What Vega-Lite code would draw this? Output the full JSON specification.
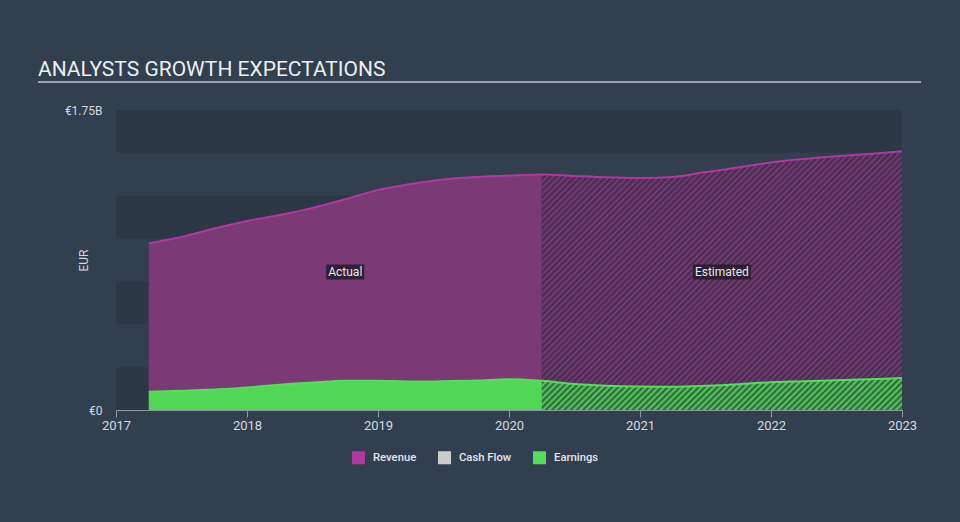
{
  "$schema": "https://vega.github.io/schema/vega-lite/v6.json",
  "width": 786,
  "height": 300,
  "autosize": "none",
  "padding": {"left": 116, "top": 110, "right": 58, "bottom": 112},
  "background": "#323f4e",
  "config": {
    "font": "Roboto",
    "view": {"stroke": null},
    "axis": {"grid": false}
  },
  "title": {
    "text": "ANALYSTS GROWTH EXPECTATIONS",
    "anchor": "start",
    "frame": "group",
    "dx": -78,
    "dy": 49,
    "offset": 33,
    "baseline": "alphabetic",
    "fontSize": 21,
    "font": "Roboto",
    "fontWeight": "normal",
    "color": "#eceef0"
  },
  "data": {
    "values": [
      {"series": "Revenue", "year": 2017.25, "value": 0.972},
      {"series": "Revenue", "year": 2017.5, "value": 1.009},
      {"series": "Revenue", "year": 2017.75, "value": 1.059},
      {"series": "Revenue", "year": 2018.0, "value": 1.103},
      {"series": "Revenue", "year": 2018.25, "value": 1.137},
      {"series": "Revenue", "year": 2018.5, "value": 1.179},
      {"series": "Revenue", "year": 2018.75, "value": 1.229},
      {"series": "Revenue", "year": 2019.0, "value": 1.284},
      {"series": "Revenue", "year": 2019.25, "value": 1.318},
      {"series": "Revenue", "year": 2019.5, "value": 1.345},
      {"series": "Revenue", "year": 2019.75, "value": 1.359},
      {"series": "Revenue", "year": 2020.0, "value": 1.368},
      {"series": "Revenue", "year": 2020.25, "value": 1.374},
      {"series": "Revenue", "year": 2020.5, "value": 1.365},
      {"series": "Revenue", "year": 2020.75, "value": 1.357},
      {"series": "Revenue", "year": 2021.0, "value": 1.353},
      {"series": "Revenue", "year": 2021.25, "value": 1.359},
      {"series": "Revenue", "year": 2021.5, "value": 1.388},
      {"series": "Revenue", "year": 2021.75, "value": 1.414},
      {"series": "Revenue", "year": 2022.0, "value": 1.444},
      {"series": "Revenue", "year": 2022.25, "value": 1.464},
      {"series": "Revenue", "year": 2022.5, "value": 1.48},
      {"series": "Revenue", "year": 2022.75, "value": 1.494},
      {"series": "Revenue", "year": 2023.0, "value": 1.509},
      {"series": "Earnings", "year": 2017.25, "value": 0.107},
      {"series": "Earnings", "year": 2017.5, "value": 0.112},
      {"series": "Earnings", "year": 2017.75, "value": 0.119},
      {"series": "Earnings", "year": 2018.0, "value": 0.131},
      {"series": "Earnings", "year": 2018.25, "value": 0.148},
      {"series": "Earnings", "year": 2018.5, "value": 0.16},
      {"series": "Earnings", "year": 2018.75, "value": 0.17},
      {"series": "Earnings", "year": 2019.0, "value": 0.171},
      {"series": "Earnings", "year": 2019.25, "value": 0.166},
      {"series": "Earnings", "year": 2019.5, "value": 0.168},
      {"series": "Earnings", "year": 2019.75, "value": 0.172},
      {"series": "Earnings", "year": 2020.0, "value": 0.18},
      {"series": "Earnings", "year": 2020.25, "value": 0.17},
      {"series": "Earnings", "year": 2020.5, "value": 0.152},
      {"series": "Earnings", "year": 2020.75, "value": 0.141},
      {"series": "Earnings", "year": 2021.0, "value": 0.137},
      {"series": "Earnings", "year": 2021.25, "value": 0.136},
      {"series": "Earnings", "year": 2021.5, "value": 0.141},
      {"series": "Earnings", "year": 2021.75, "value": 0.15},
      {"series": "Earnings", "year": 2022.0, "value": 0.162},
      {"series": "Earnings", "year": 2022.25, "value": 0.168},
      {"series": "Earnings", "year": 2022.5, "value": 0.174},
      {"series": "Earnings", "year": 2022.75, "value": 0.18},
      {"series": "Earnings", "year": 2023.0, "value": 0.186}
    ]
  },
  "layer": [
    {
      "data": {"values": [{"lo": 0, "hi": 0.25}, {"lo": 0.5, "hi": 0.75}, {"lo": 1.0, "hi": 1.25}, {"lo": 1.5, "hi": 1.75}]},
      "mark": {"type": "rect", "color": "#2c3846"},
      "encoding": {
        "y": {
          "field": "lo", "type": "quantitative",
          "scale": {"domain": [0, 1.75], "nice": false, "zero": true},
          "axis": {
            "values": [0, 1.75],
            "labelExpr": "datum.value == 0 ? '€0' : '€' + datum.value + 'B'",
            "domain": false, "ticks": false, "tickSize": 0,
            "labelPadding": 14, "labelFontSize": 12, "labelColor": "#d5d9de",
            "title": "EUR", "titleColor": "#d5d9de", "titleFontSize": 12,
            "titleFontWeight": "normal", "titleX": -26, "titleY": 150
          }
        },
        "y2": {"field": "hi"}
      }
    },
    {
      "data": {"values": [{}]},
      "mark": {"type": "rule", "color": "#9aa3ad", "strokeWidth": 2, "clip": false},
      "encoding": {
        "x": {"value": -78},
        "x2": {"value": 805},
        "y": {"value": -28}
      }
    },
    {
      "transform": [{"filter": "datum.series == 'Revenue' && datum.year <= 2020.25"}],
      "mark": {"type": "area", "interpolate": "monotone", "color": "#7b3975"},
      "encoding": {
        "x": {
          "field": "year", "type": "quantitative",
          "scale": {"domain": [2017, 2023], "nice": false, "zero": false},
          "axis": {
            "values": [2017, 2018, 2019, 2020, 2021, 2022, 2023],
            "format": "d", "title": null, "labelFlush": false,
            "domainColor": "#8d99a6", "tickColor": "#8d99a6", "tickSize": 7,
            "labelPadding": 2, "labelFontSize": 13, "labelColor": "#d5d9de"
          }
        },
        "y": {"field": "value", "type": "quantitative"}
      }
    },
    {
      "transform": [{"filter": "datum.series == 'Revenue' && datum.year >= 2020.25"}],
      "mark": {"type": "area", "interpolate": "monotone", "color": "#7b3975"},
      "encoding": {
        "x": {"field": "year", "type": "quantitative"},
        "y": {"field": "value", "type": "quantitative"}
      }
    },
    {
      "transform": [{"filter": "datum.series == 'Earnings'"}],
      "mark": {"type": "area", "interpolate": "monotone", "color": "#52d656"},
      "encoding": {
        "x": {"field": "year", "type": "quantitative"},
        "y": {"field": "value", "type": "quantitative"}
      }
    },
    {
      "transform": [{"filter": "datum.series == 'Revenue' && datum.year >= 2020.25"}],
      "mark": {
        "type": "area", "interpolate": "monotone",
        "fill": {
          "gradient": "linear", "x1": 0, "y1": 0, "x2": 1.133, "y2": 0.815,
          "stops": [
            {"offset":0,"color":"rgba(38,40,58,0)"},{"offset":0.005,"color":"rgba(38,40,58,0.72)"},
            {"offset":0.01,"color":"rgba(38,40,58,0)"},{"offset":0.015,"color":"rgba(38,40,58,0.72)"},
            {"offset":0.02,"color":"rgba(38,40,58,0)"},{"offset":0.025,"color":"rgba(38,40,58,0.72)"},
            {"offset":0.03,"color":"rgba(38,40,58,0)"},{"offset":0.035,"color":"rgba(38,40,58,0.72)"},
            {"offset":0.04,"color":"rgba(38,40,58,0)"},{"offset":0.045,"color":"rgba(38,40,58,0.72)"},
            {"offset":0.05,"color":"rgba(38,40,58,0)"},{"offset":0.055,"color":"rgba(38,40,58,0.72)"},
            {"offset":0.06,"color":"rgba(38,40,58,0)"},{"offset":0.065,"color":"rgba(38,40,58,0.72)"},
            {"offset":0.07,"color":"rgba(38,40,58,0)"},{"offset":0.075,"color":"rgba(38,40,58,0.72)"},
            {"offset":0.08,"color":"rgba(38,40,58,0)"},{"offset":0.085,"color":"rgba(38,40,58,0.72)"},
            {"offset":0.09,"color":"rgba(38,40,58,0)"},{"offset":0.095,"color":"rgba(38,40,58,0.72)"},
            {"offset":0.1,"color":"rgba(38,40,58,0)"},{"offset":0.105,"color":"rgba(38,40,58,0.72)"},
            {"offset":0.11,"color":"rgba(38,40,58,0)"},{"offset":0.115,"color":"rgba(38,40,58,0.72)"},
            {"offset":0.12,"color":"rgba(38,40,58,0)"},{"offset":0.125,"color":"rgba(38,40,58,0.72)"},
            {"offset":0.13,"color":"rgba(38,40,58,0)"},{"offset":0.135,"color":"rgba(38,40,58,0.72)"},
            {"offset":0.14,"color":"rgba(38,40,58,0)"},{"offset":0.145,"color":"rgba(38,40,58,0.72)"},
            {"offset":0.15,"color":"rgba(38,40,58,0)"},{"offset":0.155,"color":"rgba(38,40,58,0.72)"},
            {"offset":0.16,"color":"rgba(38,40,58,0)"},{"offset":0.165,"color":"rgba(38,40,58,0.72)"},
            {"offset":0.17,"color":"rgba(38,40,58,0)"},{"offset":0.175,"color":"rgba(38,40,58,0.72)"},
            {"offset":0.18,"color":"rgba(38,40,58,0)"},{"offset":0.185,"color":"rgba(38,40,58,0.72)"},
            {"offset":0.19,"color":"rgba(38,40,58,0)"},{"offset":0.195,"color":"rgba(38,40,58,0.72)"},
            {"offset":0.2,"color":"rgba(38,40,58,0)"},{"offset":0.205,"color":"rgba(38,40,58,0.72)"},
            {"offset":0.21,"color":"rgba(38,40,58,0)"},{"offset":0.215,"color":"rgba(38,40,58,0.72)"},
            {"offset":0.22,"color":"rgba(38,40,58,0)"},{"offset":0.225,"color":"rgba(38,40,58,0.72)"},
            {"offset":0.23,"color":"rgba(38,40,58,0)"},{"offset":0.235,"color":"rgba(38,40,58,0.72)"},
            {"offset":0.24,"color":"rgba(38,40,58,0)"},{"offset":0.245,"color":"rgba(38,40,58,0.72)"},
            {"offset":0.25,"color":"rgba(38,40,58,0)"},{"offset":0.255,"color":"rgba(38,40,58,0.72)"},
            {"offset":0.26,"color":"rgba(38,40,58,0)"},{"offset":0.265,"color":"rgba(38,40,58,0.72)"},
            {"offset":0.27,"color":"rgba(38,40,58,0)"},{"offset":0.275,"color":"rgba(38,40,58,0.72)"},
            {"offset":0.28,"color":"rgba(38,40,58,0)"},{"offset":0.285,"color":"rgba(38,40,58,0.72)"},
            {"offset":0.29,"color":"rgba(38,40,58,0)"},{"offset":0.295,"color":"rgba(38,40,58,0.72)"},
            {"offset":0.3,"color":"rgba(38,40,58,0)"},{"offset":0.305,"color":"rgba(38,40,58,0.72)"},
            {"offset":0.31,"color":"rgba(38,40,58,0)"},{"offset":0.315,"color":"rgba(38,40,58,0.72)"},
            {"offset":0.32,"color":"rgba(38,40,58,0)"},{"offset":0.325,"color":"rgba(38,40,58,0.72)"},
            {"offset":0.33,"color":"rgba(38,40,58,0)"},{"offset":0.335,"color":"rgba(38,40,58,0.72)"},
            {"offset":0.34,"color":"rgba(38,40,58,0)"},{"offset":0.345,"color":"rgba(38,40,58,0.72)"},
            {"offset":0.35,"color":"rgba(38,40,58,0)"},{"offset":0.355,"color":"rgba(38,40,58,0.72)"},
            {"offset":0.36,"color":"rgba(38,40,58,0)"},{"offset":0.365,"color":"rgba(38,40,58,0.72)"},
            {"offset":0.37,"color":"rgba(38,40,58,0)"},{"offset":0.375,"color":"rgba(38,40,58,0.72)"},
            {"offset":0.38,"color":"rgba(38,40,58,0)"},{"offset":0.385,"color":"rgba(38,40,58,0.72)"},
            {"offset":0.39,"color":"rgba(38,40,58,0)"},{"offset":0.395,"color":"rgba(38,40,58,0.72)"},
            {"offset":0.4,"color":"rgba(38,40,58,0)"},{"offset":0.405,"color":"rgba(38,40,58,0.72)"},
            {"offset":0.41,"color":"rgba(38,40,58,0)"},{"offset":0.415,"color":"rgba(38,40,58,0.72)"},
            {"offset":0.42,"color":"rgba(38,40,58,0)"},{"offset":0.425,"color":"rgba(38,40,58,0.72)"},
            {"offset":0.43,"color":"rgba(38,40,58,0)"},{"offset":0.435,"color":"rgba(38,40,58,0.72)"},
            {"offset":0.44,"color":"rgba(38,40,58,0)"},{"offset":0.445,"color":"rgba(38,40,58,0.72)"},
            {"offset":0.45,"color":"rgba(38,40,58,0)"},{"offset":0.455,"color":"rgba(38,40,58,0.72)"},
            {"offset":0.46,"color":"rgba(38,40,58,0)"},{"offset":0.465,"color":"rgba(38,40,58,0.72)"},
            {"offset":0.47,"color":"rgba(38,40,58,0)"},{"offset":0.475,"color":"rgba(38,40,58,0.72)"},
            {"offset":0.48,"color":"rgba(38,40,58,0)"},{"offset":0.485,"color":"rgba(38,40,58,0.72)"},
            {"offset":0.49,"color":"rgba(38,40,58,0)"},{"offset":0.495,"color":"rgba(38,40,58,0.72)"},
            {"offset":0.5,"color":"rgba(38,40,58,0)"},{"offset":0.505,"color":"rgba(38,40,58,0.72)"},
            {"offset":0.51,"color":"rgba(38,40,58,0)"},{"offset":0.515,"color":"rgba(38,40,58,0.72)"},
            {"offset":0.52,"color":"rgba(38,40,58,0)"},{"offset":0.525,"color":"rgba(38,40,58,0.72)"},
            {"offset":0.53,"color":"rgba(38,40,58,0)"},{"offset":0.535,"color":"rgba(38,40,58,0.72)"},
            {"offset":0.54,"color":"rgba(38,40,58,0)"},{"offset":0.545,"color":"rgba(38,40,58,0.72)"},
            {"offset":0.55,"color":"rgba(38,40,58,0)"},{"offset":0.555,"color":"rgba(38,40,58,0.72)"},
            {"offset":0.56,"color":"rgba(38,40,58,0)"},{"offset":0.565,"color":"rgba(38,40,58,0.72)"},
            {"offset":0.57,"color":"rgba(38,40,58,0)"},{"offset":0.575,"color":"rgba(38,40,58,0.72)"},
            {"offset":0.58,"color":"rgba(38,40,58,0)"},{"offset":0.585,"color":"rgba(38,40,58,0.72)"},
            {"offset":0.59,"color":"rgba(38,40,58,0)"},{"offset":0.595,"color":"rgba(38,40,58,0.72)"},
            {"offset":0.6,"color":"rgba(38,40,58,0)"},{"offset":0.605,"color":"rgba(38,40,58,0.72)"},
            {"offset":0.61,"color":"rgba(38,40,58,0)"},{"offset":0.615,"color":"rgba(38,40,58,0.72)"},
            {"offset":0.62,"color":"rgba(38,40,58,0)"},{"offset":0.625,"color":"rgba(38,40,58,0.72)"},
            {"offset":0.63,"color":"rgba(38,40,58,0)"},{"offset":0.635,"color":"rgba(38,40,58,0.72)"},
            {"offset":0.64,"color":"rgba(38,40,58,0)"},{"offset":0.645,"color":"rgba(38,40,58,0.72)"},
            {"offset":0.65,"color":"rgba(38,40,58,0)"},{"offset":0.655,"color":"rgba(38,40,58,0.72)"},
            {"offset":0.66,"color":"rgba(38,40,58,0)"},{"offset":0.665,"color":"rgba(38,40,58,0.72)"},
            {"offset":0.67,"color":"rgba(38,40,58,0)"},{"offset":0.675,"color":"rgba(38,40,58,0.72)"},
            {"offset":0.68,"color":"rgba(38,40,58,0)"},{"offset":0.685,"color":"rgba(38,40,58,0.72)"},
            {"offset":0.69,"color":"rgba(38,40,58,0)"},{"offset":0.695,"color":"rgba(38,40,58,0.72)"},
            {"offset":0.7,"color":"rgba(38,40,58,0)"},{"offset":0.705,"color":"rgba(38,40,58,0.72)"},
            {"offset":0.71,"color":"rgba(38,40,58,0)"},{"offset":0.715,"color":"rgba(38,40,58,0.72)"},
            {"offset":0.72,"color":"rgba(38,40,58,0)"},{"offset":0.725,"color":"rgba(38,40,58,0.72)"},
            {"offset":0.73,"color":"rgba(38,40,58,0)"},{"offset":0.735,"color":"rgba(38,40,58,0.72)"},
            {"offset":0.74,"color":"rgba(38,40,58,0)"},{"offset":0.745,"color":"rgba(38,40,58,0.72)"},
            {"offset":0.75,"color":"rgba(38,40,58,0)"},{"offset":0.755,"color":"rgba(38,40,58,0.72)"},
            {"offset":0.76,"color":"rgba(38,40,58,0)"},{"offset":0.765,"color":"rgba(38,40,58,0.72)"},
            {"offset":0.77,"color":"rgba(38,40,58,0)"},{"offset":0.775,"color":"rgba(38,40,58,0.72)"},
            {"offset":0.78,"color":"rgba(38,40,58,0)"},{"offset":0.785,"color":"rgba(38,40,58,0.72)"},
            {"offset":0.79,"color":"rgba(38,40,58,0)"},{"offset":0.795,"color":"rgba(38,40,58,0.72)"},
            {"offset":0.8,"color":"rgba(38,40,58,0)"},{"offset":0.805,"color":"rgba(38,40,58,0.72)"},
            {"offset":0.81,"color":"rgba(38,40,58,0)"},{"offset":0.815,"color":"rgba(38,40,58,0.72)"},
            {"offset":0.82,"color":"rgba(38,40,58,0)"},{"offset":0.825,"color":"rgba(38,40,58,0.72)"},
            {"offset":0.83,"color":"rgba(38,40,58,0)"},{"offset":0.835,"color":"rgba(38,40,58,0.72)"},
            {"offset":0.84,"color":"rgba(38,40,58,0)"},{"offset":0.845,"color":"rgba(38,40,58,0.72)"},
            {"offset":0.85,"color":"rgba(38,40,58,0)"},{"offset":0.855,"color":"rgba(38,40,58,0.72)"},
            {"offset":0.86,"color":"rgba(38,40,58,0)"},{"offset":0.865,"color":"rgba(38,40,58,0.72)"},
            {"offset":0.87,"color":"rgba(38,40,58,0)"},{"offset":0.875,"color":"rgba(38,40,58,0.72)"},
            {"offset":0.88,"color":"rgba(38,40,58,0)"},{"offset":0.885,"color":"rgba(38,40,58,0.72)"},
            {"offset":0.89,"color":"rgba(38,40,58,0)"},{"offset":0.895,"color":"rgba(38,40,58,0.72)"},
            {"offset":0.9,"color":"rgba(38,40,58,0)"},{"offset":0.905,"color":"rgba(38,40,58,0.72)"},
            {"offset":0.91,"color":"rgba(38,40,58,0)"},{"offset":0.915,"color":"rgba(38,40,58,0.72)"},
            {"offset":0.92,"color":"rgba(38,40,58,0)"},{"offset":0.925,"color":"rgba(38,40,58,0.72)"},
            {"offset":0.93,"color":"rgba(38,40,58,0)"},{"offset":0.935,"color":"rgba(38,40,58,0.72)"},
            {"offset":0.94,"color":"rgba(38,40,58,0)"},{"offset":0.945,"color":"rgba(38,40,58,0.72)"},
            {"offset":0.95,"color":"rgba(38,40,58,0)"},{"offset":0.955,"color":"rgba(38,40,58,0.72)"},
            {"offset":0.96,"color":"rgba(38,40,58,0)"},{"offset":0.965,"color":"rgba(38,40,58,0.72)"},
            {"offset":0.97,"color":"rgba(38,40,58,0)"},{"offset":0.975,"color":"rgba(38,40,58,0.72)"},
            {"offset":0.98,"color":"rgba(38,40,58,0)"},{"offset":0.985,"color":"rgba(38,40,58,0.72)"},
            {"offset":0.99,"color":"rgba(38,40,58,0)"},{"offset":0.995,"color":"rgba(38,40,58,0.72)"},
            {"offset":1,"color":"rgba(38,40,58,0)"}
          ]
        }
      },
      "encoding": {
        "x": {"field": "year", "type": "quantitative"},
        "y": {"field": "value", "type": "quantitative"}
      }
    },
    {
      "mark": {"type": "line", "interpolate": "monotone", "strokeWidth": 2},
      "encoding": {
        "x": {"field": "year", "type": "quantitative"},
        "y": {"field": "value", "type": "quantitative"},
        "color": {
          "field": "series", "type": "nominal",
          "scale": {"domain": ["Revenue", "Cash Flow", "Earnings"], "range": ["#b0399f", "#cccccc", "#55de5a"]},
          "legend": {
            "orient": "none", "legendX": 236, "legendY": 341,
            "direction": "horizontal", "title": null, "padding": 0,
            "symbolType": "square", "symbolSize": 36, "symbolStrokeWidth": 7,
            "labelFontSize": 11.3, "labelFont": "Roboto", "labelFontWeight": 500,
            "labelOffset": 8, "columnPadding": 10,
            "labelColor": "#e4e6e8",
            "encoding": {
              "labels": {"update": {"fill": {"signal": "datum.value == 'Cash Flow' ? '#8e969f' : '#e4e6e8'"}}}
            }
          }
        }
      }
    },
    {
      "data": {"values": [{"label": "Actual", "year": 2018.75, "value": 0.805}, {"label": "Estimated", "year": 2021.625, "value": 0.805}]},
      "transform": [{"filter": "datum.label == 'Actual'"}],
      "mark": {"type": "point", "shape": "M-1,-0.395H1V0.395H-1Z", "size": 1444, "filled": true, "color": "#251d2e", "opacity": 0.88, "strokeWidth": 0},
      "encoding": {
        "x": {"field": "year", "type": "quantitative"},
        "y": {"field": "value", "type": "quantitative"}
      }
    },
    {
      "data": {"values": [{"label": "Actual", "year": 2018.75, "value": 0.805}, {"label": "Estimated", "year": 2021.625, "value": 0.805}]},
      "transform": [{"filter": "datum.label == 'Estimated'"}],
      "mark": {"type": "point", "shape": "M-1,-0.26H1V0.26H-1Z", "size": 3364, "filled": true, "color": "#251d2e", "opacity": 0.88, "strokeWidth": 0},
      "encoding": {
        "x": {"field": "year", "type": "quantitative"},
        "y": {"field": "value", "type": "quantitative"}
      }
    },
    {
      "data": {"values": [{"label": "Actual", "year": 2018.75, "value": 0.805}, {"label": "Estimated", "year": 2021.625, "value": 0.805}]},
      "mark": {"type": "text", "fontSize": 12, "font": "Roboto", "color": "#e8e8ea", "align": "center", "baseline": "middle"},
      "encoding": {
        "x": {"field": "year", "type": "quantitative"},
        "y": {"field": "value", "type": "quantitative"},
        "text": {"field": "label"}
      }
    }
  ]
}
